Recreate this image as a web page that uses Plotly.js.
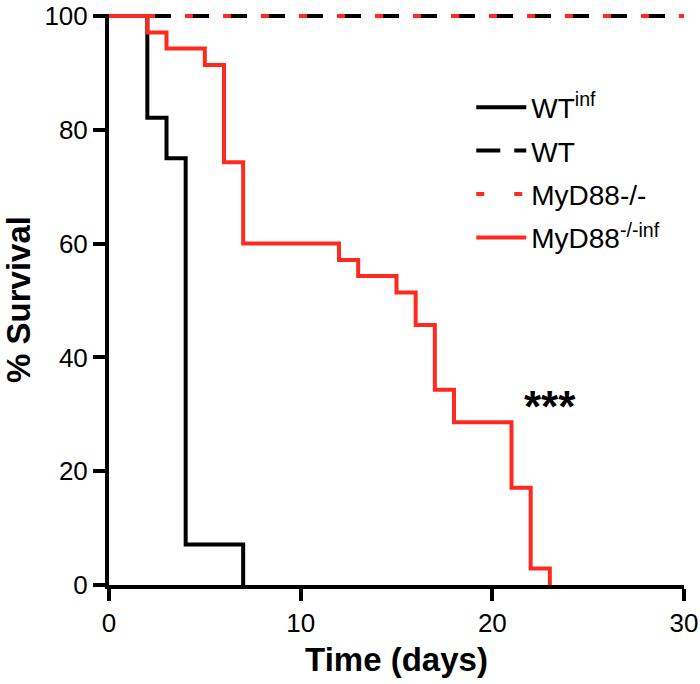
<!DOCTYPE html>
<html>
<head>
<meta charset="utf-8">
<script src="https://cdn.plot.ly/plotly-3.0.1.min.js"></script>
<style>html,body{margin:0;padding:0;background:#fff}</style>
</head>
<body>
<div id="chart" style="width:700px;height:684px"></div>
<script>
// Survival data (Kaplan–Meier steps)
const wtInfDays = [0, 2, 3, 4, 7];
const wtInfSurv = [100, 82.1, 75, 7.1, 0];

const wtDays = [0, 30];
const wtSurv = [100, 100];

const koDays = [0, 30];
const koSurv = [100, 100];

const koInfDays = [0, 2, 3, 5, 6, 7, 12, 13, 15, 16, 17, 18, 21, 22, 23];
const koInfSurv = [100, 97.1, 94.3, 91.4, 74.3, 60, 57.1, 54.3, 51.4, 45.7, 34.3, 28.6, 17.1, 2.9, 0];

const xTicks = [0, 10, 20, 30];
const yTicks = [0, 20, 40, 60, 80, 100];

const RED = '#ff2a1f';
const BLACK = '#000000';
const TICKFONT = {family: 'Liberation Sans, Arial, sans-serif', size: 26, color: '#000'};

const traces = [
  {x: wtInfDays, y: wtInfSurv, name: 'WT<sup>inf</sup>', legendgroup: 'a', mode: 'lines',
   line: {shape: 'hv', color: BLACK, width: 4}},
  {x: wtDays, y: wtSurv, name: 'WT', legendgroup: 'b', mode: 'lines',
   line: {color: BLACK, width: 4, dash: '24px,14px'}},
  {x: koDays, y: koSurv, name: 'MyD88-/-', legendgroup: 'c', mode: 'lines',
   line: {color: RED, width: 4, dash: '8px,30px'}},
  {x: koInfDays, y: koInfSurv, name: 'MyD88<sup>-/-inf</sup>', legendgroup: 'd', mode: 'lines',
   line: {shape: 'hv', color: RED, width: 4}}
];

const layout = {
  width: 700, height: 684,
  margin: {l: 109, r: 16, t: 14, b: 99},
  paper_bgcolor: '#ffffff', plot_bgcolor: '#ffffff',
  font: {family: 'Liberation Sans, Arial, sans-serif', color: '#000'},
  showlegend: true,
  legend: {
    x: 0.63, y: 0.88, xanchor: 'left', yanchor: 'top',
    font: {size: 28, color: '#000'},
    bgcolor: 'rgba(0,0,0,0)',
    tracegroupgap: 4,
    traceorder: 'grouped',
    itemwidth: 50
  },
  xaxis: {
    range: [0, 30], tickvals: xTicks, ticktext: xTicks.map(String),
    showgrid: false, zeroline: false,
    showline: true, linecolor: '#000', linewidth: 4,
    ticks: 'outside', ticklen: 12, tickwidth: 4, tickcolor: '#000',
    ticklabeloverflow: 'allow',
    tickfont: TICKFONT,
    title: {text: '<b>Time (days)</b>', font: {size: 33, color: '#000'}, standoff: 12}
  },
  yaxis: {
    range: [0, 100.35], tickvals: yTicks, ticktext: yTicks.map(String),
    showgrid: false, zeroline: false,
    showline: true, linecolor: '#000', linewidth: 4,
    ticks: 'outside', ticklen: 12, tickwidth: 4, tickcolor: '#000',
    ticklabeloverflow: 'allow',
    tickfont: TICKFONT,
    title: {text: '<b>% Survival</b>', font: {size: 33, color: '#000'}, standoff: 24}
  },
  annotations: [{
    x: 23, y: 31.4, xref: 'x', yref: 'y', text: '<b>***</b>', showarrow: false,
    font: {size: 44, color: '#000'}
  }]
};

Plotly.newPlot('chart', traces, layout, {displayModeBar: false, staticPlot: true});
</script>
</body>
</html>
